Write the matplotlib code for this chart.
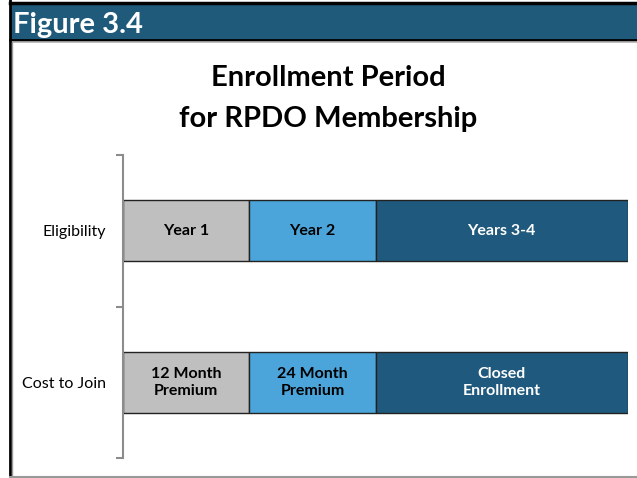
import matplotlib.pyplot as plt
from matplotlib.patches import Rectangle
from matplotlib.lines import Line2D

categories = ['Eligibility', 'Cost to Join']
seg_widths = [1, 1, 2]
seg_colors = ['#bfbfbf', '#4ba5da', '#1f5a7e']
seg_text_colors = ['black', 'black', 'white']
eligibility_labels = ['Year 1', 'Year 2', 'Years 3-4']
cost_labels = ['12 Month\nPremium', '24 Month\nPremium', 'Closed\nEnrollment']

plt.rcParams['font.family'] = ['Lato', 'DejaVu Sans']

fig = plt.figure(figsize=(6.37, 4.78), dpi=100)

# header band
fig.patches.append(Rectangle((10 / 637, 1 - 40 / 478), 1, 37 / 478, transform=fig.transFigure,
                             facecolor='#1f5a7b', edgecolor='none'))
fig.lines.append(Line2D([10 / 637, 1], [1 - 2.5 / 478] * 2, transform=fig.transFigure, color='black', lw=2.5))
fig.lines.append(Line2D([10 / 637, 1], [1 - 40 / 478] * 2, transform=fig.transFigure, color='black', lw=2))
fig.lines.append(Line2D([10 / 637, 1], [1 - 42 / 478] * 2, transform=fig.transFigure, color='#b0b0b0', lw=1.2))
fig.lines.append(Line2D([10 / 637] * 2, [0, 1], transform=fig.transFigure, color='black', lw=2))
fig.lines.append(Line2D([12 / 637] * 2, [0, 1 - 42 / 478], transform=fig.transFigure, color='#999999', lw=1))
fig.lines.append(Line2D([10 / 637, 1], [1 - 476.5 / 478] * 2, transform=fig.transFigure, color='#999999', lw=1.5))
fig.text(13 / 637, 1 - 33 / 478, 'Figure 3.4', color='white', fontsize=21, fontweight='bold',
         va='baseline', ha='left')

fig.text(328 / 637, 1 - 98.5 / 478, 'Enrollment Period\nfor RPDO Membership', ha='center', va='center',
         fontsize=21, fontweight='bold', linespacing=1.75)

ax = fig.add_axes([123 / 637, 1 - 458 / 478, 505 / 637, 303 / 478])
ypos = [0, 1]
rows = [eligibility_labels, cost_labels]
for y, labels in zip(ypos, rows):
    left = 0
    for w, c, tc, lab in zip(seg_widths, seg_colors, seg_text_colors, labels):
        ax.barh(y, w, left=left, height=0.4, color=c, edgecolor='#222222', linewidth=1)
        ax.text(left + w / 2, y, lab, ha='center', va='center', color=tc,
                fontsize=11.5, fontweight='bold', linespacing=1.3)
        left += w

ax.set_xlim(0, 4)
ax.set_ylim(1.5, -0.5)
ax.set_yticks(ypos)
ax.set_yticklabels(categories, fontsize=11.5)
ax.tick_params(axis='y', which='major', length=0, pad=12)
ax.set_yticks([-0.5, 0.5, 1.5], minor=True)
ax.tick_params(axis='y', which='minor', length=5, width=1.5, color='#8c8c8c')
ax.set_xticks([])
for s in ['top', 'right', 'bottom']:
    ax.spines[s].set_visible(False)
ax.spines['left'].set_color('#8c8c8c')
ax.spines['left'].set_linewidth(1.5)

plt.savefig('out.png', dpi=100)
